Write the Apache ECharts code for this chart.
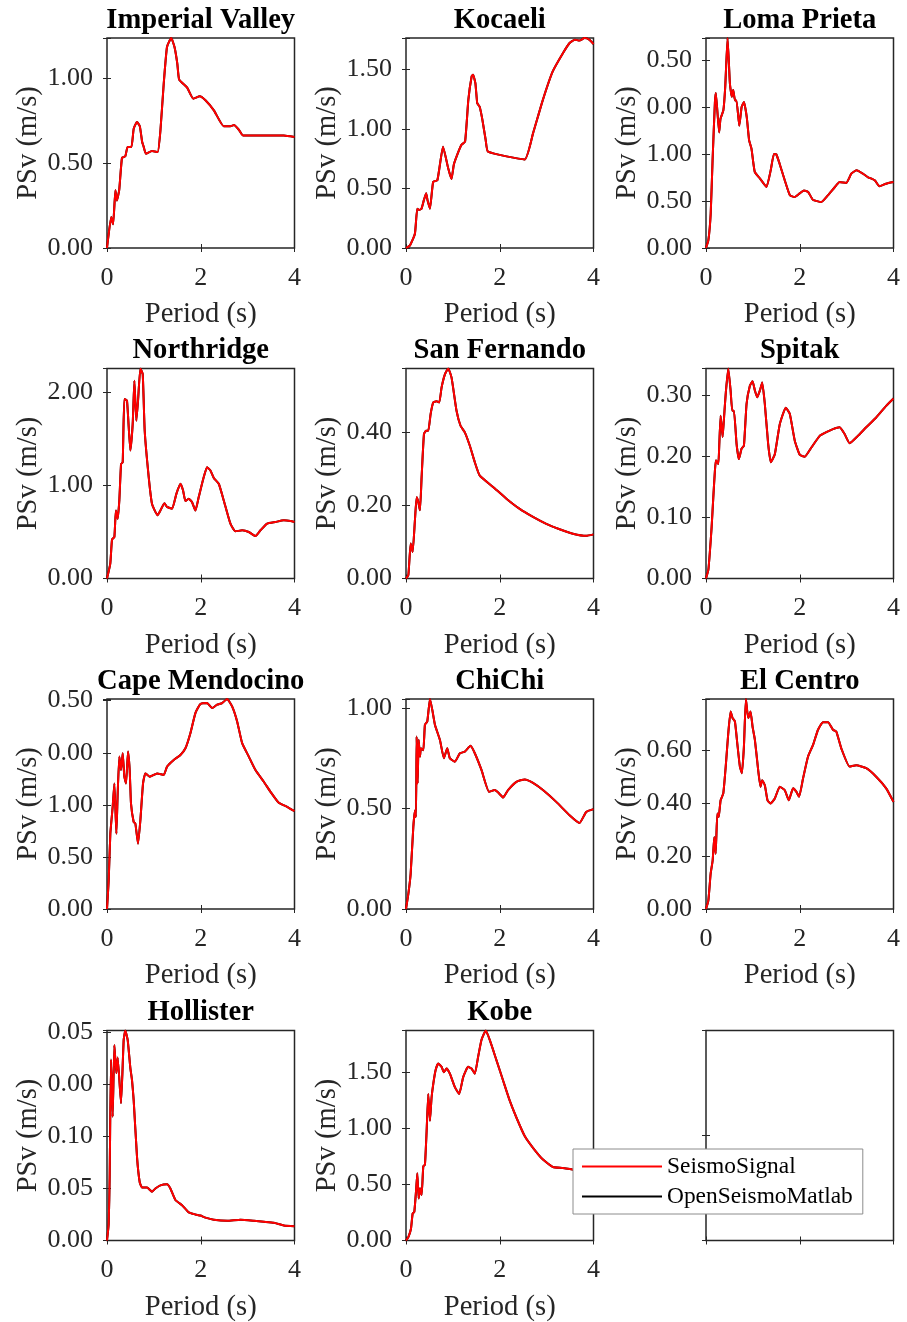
<!DOCTYPE html>
<html>
<head>
<meta charset="utf-8">
<script src="https://cdn.jsdelivr.net/npm/echarts@6/dist/echarts.min.js"></script>
<style>
  html, body { margin: 0; padding: 0; background: #ffffff; }
  #chart { width: 907px; height: 1322px; }
</style>
</head>
<body>
<div id="chart"></div>
<script>
// Pseudo-spectral velocity (PSv, m/s) against period (s) for eleven ground motions.

const periodTicks = [0, 2, 4];
const periodTickLabels = ['0', '2', '4'];

const imperialValleyT   = [0, 0.09, 0.13, 0.18, 0.21, 0.26, 0.32, 0.39, 0.44, 0.52, 0.57, 0.64, 0.70, 0.75, 0.78, 0.83, 0.96, 1.08, 1.14, 1.21, 1.28, 1.37, 1.44, 1.50, 1.54, 1.71, 1.84, 1.98, 2.10, 2.28, 2.49, 2.63, 2.71, 2.81, 2.90, 3.42, 3.77, 4.00];
const imperialValleyPSv = [0, 0.183, 0.140, 0.341, 0.281, 0.341, 0.533, 0.541, 0.596, 0.596, 0.705, 0.744, 0.719, 0.626, 0.600, 0.557, 0.573, 0.567, 0.695, 0.970, 1.187, 1.240, 1.187, 1.089, 0.994, 0.947, 0.882, 0.896, 0.872, 0.813, 0.719, 0.719, 0.726, 0.699, 0.665, 0.665, 0.665, 0.656];
const imperialValleyYTicks = [0, 0.5, 1.0];
const imperialValleyYTickLabels = ['0.00', '0.50', '1.00'];

const kocaeliT   = [0, 0.085, 0.19, 0.24, 0.28, 0.33, 0.38, 0.43, 0.46, 0.51, 0.58, 0.67, 0.79, 0.90, 0.97, 1.02, 1.08, 1.18, 1.26, 1.33, 1.40, 1.43, 1.48, 1.52, 1.57, 1.63, 1.70, 1.75, 2.53, 2.71, 2.92, 3.13, 3.35, 3.49, 3.60, 3.70, 3.81, 3.91, 4.00];
const kocaeliPSv = [0, 0.022, 0.12, 0.33, 0.32, 0.33, 0.40, 0.46, 0.40, 0.33, 0.556, 0.57, 0.85, 0.67, 0.58, 0.70, 0.77, 0.865, 0.893, 1.244, 1.441, 1.455, 1.385, 1.216, 1.188, 1.076, 0.907, 0.809, 0.744, 0.963, 1.244, 1.483, 1.638, 1.722, 1.750, 1.742, 1.764, 1.750, 1.713];
const kocaeliYTicks = [0, 0.5, 1.0, 1.5];
const kocaeliYTickLabels = ['0.00', '0.50', '1.00', '1.50'];

const lomaPrietaT   = [0, 0.05, 0.10, 0.14, 0.19, 0.21, 0.28, 0.31, 0.37, 0.41, 0.46, 0.51, 0.55, 0.58, 0.62, 0.65, 0.71, 0.76, 0.81, 0.87, 0.92, 0.97, 1.04, 1.15, 1.29, 1.38, 1.45, 1.50, 1.57, 1.68, 1.79, 1.89, 1.99, 2.09, 2.18, 2.28, 2.46, 2.60, 2.75, 2.85, 2.99, 3.10, 3.21, 3.35, 3.45, 3.60, 3.70, 3.84, 4.00];
const lomaPrietaPSv = [0, 0.08, 0.365, 0.93, 1.55, 1.65, 1.23, 1.376, 1.464, 1.713, 2.234, 1.75, 1.61, 1.68, 1.57, 1.57, 1.30, 1.50, 1.553, 1.39, 1.145, 1.057, 0.81, 0.74, 0.65, 0.826, 1.0, 0.996, 0.897, 0.72, 0.56, 0.543, 0.578, 0.613, 0.596, 0.514, 0.489, 0.56, 0.649, 0.702, 0.691, 0.79, 0.826, 0.79, 0.755, 0.72, 0.656, 0.684, 0.702];
const lomaPrietaYTicks = [0, 0.5, 1.0, 1.5, 2.0];
const lomaPrietaYTickLabels = ['0.00', '0.50', '1.00', '0.00', '0.50'];

const northridgeT   = [0, 0.07, 0.107, 0.157, 0.19, 0.228, 0.263, 0.30, 0.335, 0.37, 0.427, 0.498, 0.548, 0.584, 0.626, 0.662, 0.712, 0.762, 0.804, 0.89, 0.961, 1.08, 1.139, 1.224, 1.28, 1.388, 1.48, 1.566, 1.623, 1.673, 1.744, 1.815, 1.886, 1.957, 2.064, 2.135, 2.206, 2.278, 2.384, 2.491, 2.633, 2.74, 2.883, 3.025, 3.167, 3.274, 3.416, 3.594, 3.772, 3.915, 4.00];
const northridgePSv = [0, 0.16, 0.418, 0.446, 0.73, 0.643, 0.84, 1.23, 1.25, 1.93, 1.91, 1.375, 1.66, 2.125, 1.696, 1.91, 2.257, 2.196, 1.59, 1.09, 0.80, 0.68, 0.73, 0.81, 0.77, 0.75, 0.91, 1.018, 0.946, 0.832, 0.857, 0.82, 0.73, 0.875, 1.09, 1.196, 1.16, 1.08, 1.018, 0.839, 0.589, 0.507, 0.518, 0.50, 0.457, 0.518, 0.589, 0.607, 0.625, 0.618, 0.607];
const northridgeYTicks = [0, 1.0, 2.0];
const northridgeYTickLabels = ['0.00', '1.00', '2.00'];

const sanFernandoT   = [0, 0.05, 0.10, 0.142, 0.19, 0.227, 0.262, 0.298, 0.333, 0.383, 0.426, 0.475, 0.525, 0.582, 0.652, 0.709, 0.759, 0.83, 0.901, 0.972, 1.078, 1.163, 1.255, 1.362, 1.468, 1.574, 1.858, 2.142, 2.426, 2.709, 2.993, 3.277, 3.56, 3.844, 4.00];
const sanFernandoPSv = [0, 0.009, 0.096, 0.073, 0.159, 0.223, 0.21, 0.187, 0.278, 0.396, 0.405, 0.405, 0.451, 0.483, 0.486, 0.483, 0.524, 0.56, 0.576, 0.551, 0.46, 0.419, 0.401, 0.364, 0.319, 0.282, 0.251, 0.219, 0.191, 0.169, 0.150, 0.135, 0.123, 0.117, 0.121];
const sanFernandoYTicks = [0, 0.2, 0.4];
const sanFernandoYTickLabels = ['0.00', '0.20', '0.40'];

const spitakT   = [0, 0.05, 0.085, 0.12, 0.156, 0.19, 0.213, 0.262, 0.284, 0.312, 0.355, 0.39, 0.426, 0.475, 0.525, 0.56, 0.596, 0.652, 0.702, 0.759, 0.809, 0.865, 0.936, 0.993, 1.043, 1.092, 1.149, 1.199, 1.255, 1.326, 1.383, 1.468, 1.574, 1.702, 1.787, 1.894, 2.0, 2.106, 2.248, 2.426, 2.567, 2.709, 2.851, 2.957, 3.064, 3.241, 3.418, 3.631, 3.844, 4.00];
const spitakPSv = [0, 0.014, 0.046, 0.084, 0.133, 0.176, 0.193, 0.187, 0.22, 0.266, 0.231, 0.269, 0.307, 0.343, 0.307, 0.274, 0.274, 0.22, 0.195, 0.212, 0.217, 0.285, 0.315, 0.322, 0.307, 0.296, 0.307, 0.32, 0.285, 0.22, 0.19, 0.203, 0.252, 0.279, 0.269, 0.225, 0.202, 0.199, 0.214, 0.233, 0.239, 0.244, 0.247, 0.236, 0.221, 0.233, 0.247, 0.263, 0.282, 0.294];
const spitakYTicks = [0, 0.1, 0.2, 0.3];
const spitakYTickLabels = ['0.00', '0.10', '0.20', '0.30'];

const capeMendocinoT   = [0, 0.036, 0.071, 0.121, 0.157, 0.20, 0.228, 0.263, 0.299, 0.335, 0.37, 0.406, 0.448, 0.484, 0.512, 0.569, 0.605, 0.662, 0.712, 0.769, 0.819, 0.911, 1.068, 1.21, 1.281, 1.423, 1.566, 1.673, 1.779, 1.886, 1.993, 2.135, 2.242, 2.349, 2.456, 2.562, 2.669, 2.776, 2.883, 3.025, 3.167, 3.345, 3.488, 3.665, 3.843, 4.00];
const capeMendocinoPSv = [0, 0.273, 0.723, 0.98, 1.206, 0.723, 1.109, 1.463, 1.334, 1.495, 1.27, 1.206, 1.511, 1.334, 1.013, 0.836, 0.82, 0.627, 0.852, 1.206, 1.302, 1.27, 1.302, 1.286, 1.367, 1.431, 1.479, 1.543, 1.688, 1.881, 1.968, 1.977, 1.929, 1.961, 1.977, 2.016, 1.945, 1.801, 1.592, 1.463, 1.334, 1.222, 1.125, 1.019, 0.981, 0.939];
const capeMendocinoYTicks = [0, 0.5, 1.0, 1.5, 2.0];
const capeMendocinoYTickLabels = ['0.00', '0.50', '1.00', '0.00', '0.50'];

const chiChiT   = [0, 0.05, 0.099, 0.156, 0.191, 0.213, 0.227, 0.248, 0.27, 0.298, 0.319, 0.369, 0.404, 0.454, 0.511, 0.56, 0.617, 0.723, 0.809, 0.879, 0.936, 1.043, 1.149, 1.255, 1.376, 1.468, 1.61, 1.773, 1.894, 1.986, 2.071, 2.177, 2.355, 2.532, 2.709, 2.922, 3.206, 3.489, 3.702, 3.844, 4.00];
const chiChiPSv = [0, 0.075, 0.175, 0.408, 0.49, 0.458, 0.858, 0.625, 0.842, 0.758, 0.80, 0.79, 0.917, 0.933, 1.045, 0.992, 0.917, 0.842, 0.75, 0.80, 0.75, 0.733, 0.775, 0.783, 0.812, 0.775, 0.692, 0.583, 0.592, 0.575, 0.555, 0.592, 0.633, 0.645, 0.628, 0.592, 0.533, 0.467, 0.428, 0.483, 0.497];
const chiChiYTicks = [0, 0.5, 1.0];
const chiChiYTickLabels = ['0.00', '0.50', '1.00'];

const elCentroT   = [0, 0.05, 0.099, 0.142, 0.177, 0.206, 0.241, 0.27, 0.312, 0.369, 0.426, 0.475, 0.525, 0.567, 0.617, 0.667, 0.723, 0.766, 0.809, 0.851, 0.901, 0.95, 0.993, 1.043, 1.113, 1.163, 1.199, 1.255, 1.312, 1.376, 1.468, 1.574, 1.681, 1.766, 1.858, 1.929, 1.986, 2.071, 2.177, 2.284, 2.39, 2.496, 2.603, 2.709, 2.78, 2.886, 3.064, 3.206, 3.418, 3.631, 3.844, 4.00];
const elCentroPSv = [0, 0.032, 0.133, 0.183, 0.272, 0.208, 0.36, 0.347, 0.41, 0.436, 0.549, 0.663, 0.745, 0.72, 0.707, 0.625, 0.537, 0.512, 0.613, 0.792, 0.72, 0.745, 0.688, 0.638, 0.524, 0.461, 0.486, 0.467, 0.41, 0.398, 0.417, 0.461, 0.448, 0.41, 0.455, 0.442, 0.423, 0.493, 0.575, 0.619, 0.676, 0.704, 0.704, 0.676, 0.669, 0.606, 0.537, 0.542, 0.531, 0.499, 0.455, 0.404];
const elCentroYTicks = [0, 0.2, 0.4, 0.6];
const elCentroYTickLabels = ['0.00', '0.20', '0.40', '0.60'];

const hollisterT   = [0, 0.036, 0.057, 0.085, 0.121, 0.157, 0.199, 0.228, 0.299, 0.356, 0.391, 0.441, 0.498, 0.534, 0.569, 0.641, 0.698, 0.747, 0.854, 0.961, 1.032, 1.139, 1.281, 1.352, 1.459, 1.601, 1.744, 1.886, 1.993, 2.10, 2.278, 2.562, 2.847, 3.132, 3.345, 3.559, 3.772, 4.00];
const hollisterPSv = [0, 0.016, 0.061, 0.174, 0.119, 0.188, 0.161, 0.176, 0.132, 0.193, 0.202, 0.193, 0.166, 0.154, 0.135, 0.08, 0.056, 0.051, 0.051, 0.047, 0.05, 0.053, 0.054, 0.05, 0.039, 0.034, 0.027, 0.025, 0.024, 0.022, 0.020, 0.019, 0.020, 0.019, 0.018, 0.017, 0.0145, 0.0138];
const hollisterYTicks = [0, 0.05, 0.1, 0.15, 0.2];
const hollisterYTickLabels = ['0.00', '0.05', '0.10', '0.00', '0.05'];

const kobeT   = [0, 0.05, 0.106, 0.142, 0.177, 0.213, 0.241, 0.27, 0.298, 0.333, 0.369, 0.404, 0.44, 0.475, 0.511, 0.546, 0.582, 0.631, 0.688, 0.759, 0.809, 0.865, 0.936, 1.043, 1.135, 1.22, 1.326, 1.397, 1.468, 1.539, 1.61, 1.702, 1.787, 1.929, 2.071, 2.213, 2.355, 2.532, 2.709, 2.922, 3.135, 3.348, 3.56, 3.773, 4.00];
const kobePSv = [0, 0.03, 0.105, 0.24, 0.255, 0.435, 0.60, 0.375, 0.465, 0.405, 0.66, 0.676, 0.976, 1.306, 1.066, 1.276, 1.396, 1.517, 1.577, 1.547, 1.50, 1.532, 1.486, 1.366, 1.306, 1.456, 1.547, 1.532, 1.486, 1.637, 1.787, 1.871, 1.787, 1.607, 1.426, 1.246, 1.096, 0.931, 0.826, 0.721, 0.655, 0.646, 0.631, 0.622, 0.616];
const kobeYTicks = [0, 0.5, 1.0, 1.5];
const kobeYTickLabels = ['0.00', '0.50', '1.00', '1.50'];

const seriesNames = ['SeismoSignal', 'OpenSeismoMatlab'];

const panels = [
  { title: 'Imperial Valley', T: imperialValleyT, psv: imperialValleyPSv, ticks: imperialValleyYTicks, labels: imperialValleyYTickLabels },
  { title: 'Kocaeli',         T: kocaeliT,        psv: kocaeliPSv,        ticks: kocaeliYTicks,        labels: kocaeliYTickLabels },
  { title: 'Loma Prieta',     T: lomaPrietaT,     psv: lomaPrietaPSv,     ticks: lomaPrietaYTicks,     labels: lomaPrietaYTickLabels },
  { title: 'Northridge',      T: northridgeT,     psv: northridgePSv,     ticks: northridgeYTicks,     labels: northridgeYTickLabels },
  { title: 'San Fernando',    T: sanFernandoT,    psv: sanFernandoPSv,    ticks: sanFernandoYTicks,    labels: sanFernandoYTickLabels },
  { title: 'Spitak',          T: spitakT,         psv: spitakPSv,         ticks: spitakYTicks,         labels: spitakYTickLabels },
  { title: 'Cape Mendocino',  T: capeMendocinoT,  psv: capeMendocinoPSv,  ticks: capeMendocinoYTicks,  labels: capeMendocinoYTickLabels },
  { title: 'ChiChi',          T: chiChiT,         psv: chiChiPSv,         ticks: chiChiYTicks,         labels: chiChiYTickLabels },
  { title: 'El Centro',       T: elCentroT,       psv: elCentroPSv,       ticks: elCentroYTicks,       labels: elCentroYTickLabels },
  { title: 'Hollister',       T: hollisterT,      psv: hollisterPSv,      ticks: hollisterYTicks,      labels: hollisterYTickLabels },
  { title: 'Kobe',            T: kobeT,           psv: kobePSv,           ticks: kobeYTicks,           labels: kobeYTickLabels }
];

// ---- layout and styling ----
const FONT = "'Liberation Serif', 'Times New Roman', serif";
const AXIS_COLOR = '#262626';
const colLeft = [107, 406, 706];
const rowTop = [38, 368.5, 699, 1030.5];
const boxW = 187.5;
const boxH = 210;

const grid = [], xAxis = [], yAxis = [], series = [], title = [];

function labelFor(ticks, labels) {
  return function (v) {
    for (let k = 0; k < ticks.length; k++) {
      if (Math.abs(v - ticks[k]) < 1e-9) return labels[k];
    }
    return '';
  };
}

function addAxesBox(index, col, row, xCfg, yCfg, showLabels) {
  grid.push({
    left: colLeft[col], top: rowTop[row], width: boxW, height: boxH,
    show: true, borderColor: AXIS_COLOR, borderWidth: 1.5,
    backgroundColor: 'transparent', containLabel: false, outerBoundsMode: 'none'
  });
  const tick = { show: true, inside: true, length: 4, lineStyle: { color: AXIS_COLOR, width: 1 } };
  const common = { gridIndex: index, type: 'value', axisLine: { show: false }, splitLine: { show: false }, axisTick: tick };
  // bottom / top period axes
  xAxis.push(Object.assign({}, common, {
    position: 'bottom', min: xCfg.min, max: xCfg.max, interval: xCfg.interval,
    name: showLabels ? 'Period (s)' : '', nameLocation: 'middle', nameGap: 52,
    nameTextStyle: { fontFamily: FONT, fontSize: 28.6, color: AXIS_COLOR },
    axisLabel: { show: showLabels, margin: 17, fontFamily: FONT, fontSize: 26, color: AXIS_COLOR, formatter: xCfg.formatter }
  }));
  xAxis.push(Object.assign({}, common, {
    position: 'top', min: xCfg.min, max: xCfg.max, interval: xCfg.interval, axisLabel: { show: false }
  }));
  // left / right PSv axes
  yAxis.push(Object.assign({}, common, {
    position: 'left', min: yCfg.min, max: yCfg.max, interval: yCfg.interval,
    name: showLabels ? 'PSv (m/s)' : '', nameLocation: 'middle', nameGap: 64,
    nameTextStyle: { fontFamily: FONT, fontSize: 28.6, color: AXIS_COLOR },
    axisLabel: { show: showLabels, margin: 14, fontFamily: FONT, fontSize: 26, color: AXIS_COLOR, formatter: yCfg.formatter }
  }));
  yAxis.push(Object.assign({}, common, {
    position: 'right', min: yCfg.min, max: yCfg.max, interval: yCfg.interval, axisLabel: { show: false }
  }));
}

panels.forEach(function (p, i) {
  const col = i % 3, row = Math.floor(i / 3);
  const yMax = Math.max.apply(null, p.psv);
  addAxesBox(i, col, row,
    { min: periodTicks[0], max: periodTicks[periodTicks.length - 1], interval: periodTicks[1] - periodTicks[0], formatter: labelFor(periodTicks, periodTickLabels) },
    { min: 0, max: yMax, interval: p.ticks[1] - p.ticks[0], formatter: labelFor(p.ticks, p.labels) },
    true);

  const pts = p.T.map(function (t, k) { return [t, p.psv[k]]; });
  // black curve first; the red curve is drawn over it
  series.push({
    name: seriesNames[1], type: 'line', xAxisIndex: 2 * i, yAxisIndex: 2 * i,
    data: pts, symbol: 'none', smooth: 0.15, color: '#000000',
    lineStyle: { color: '#000000', width: 2 }, z: 2, silent: true
  });
  series.push({
    name: seriesNames[0], type: 'line', xAxisIndex: 2 * i, yAxisIndex: 2 * i,
    data: pts, symbol: 'none', smooth: 0.15, color: '#ff0000',
    lineStyle: { color: '#ff0000', width: 2 }, z: 3, silent: true
  });

  title.push({
    text: p.title, left: colLeft[col] + boxW / 2, top: rowTop[row] - 32,
    textAlign: 'center', padding: 0,
    textStyle: { fontFamily: FONT, fontSize: 28.6, fontWeight: 'bold', color: '#000000' }
  });
});

// empty twelfth axes that hosts the legend area
addAxesBox(panels.length, 2, 3,
  { min: 0, max: 1, interval: 0.5, formatter: null },
  { min: 0, max: 1, interval: 0.5, formatter: null },
  false);

const chart = echarts.init(document.getElementById('chart'), null, { renderer: 'canvas' });
chart.setOption({
  backgroundColor: '#ffffff',
  animation: false,
  title: title,
  grid: grid,
  xAxis: xAxis,
  yAxis: yAxis,
  series: series,
  legend: {
    data: seriesNames,
    orient: 'vertical',
    left: 573, top: 1149,
    padding: [6, 10, 6, 9],
    itemGap: 7,
    itemWidth: 80, itemHeight: 2,
    icon: 'rect',
    backgroundColor: '#ffffff',
    borderColor: '#8c8c8c', borderWidth: 1, borderRadius: 0,
    selectedMode: false,
    textStyle: { fontFamily: FONT, fontSize: 23.4, color: '#000000' },
    z: 10
  }
});
</script>
</body>
</html>
